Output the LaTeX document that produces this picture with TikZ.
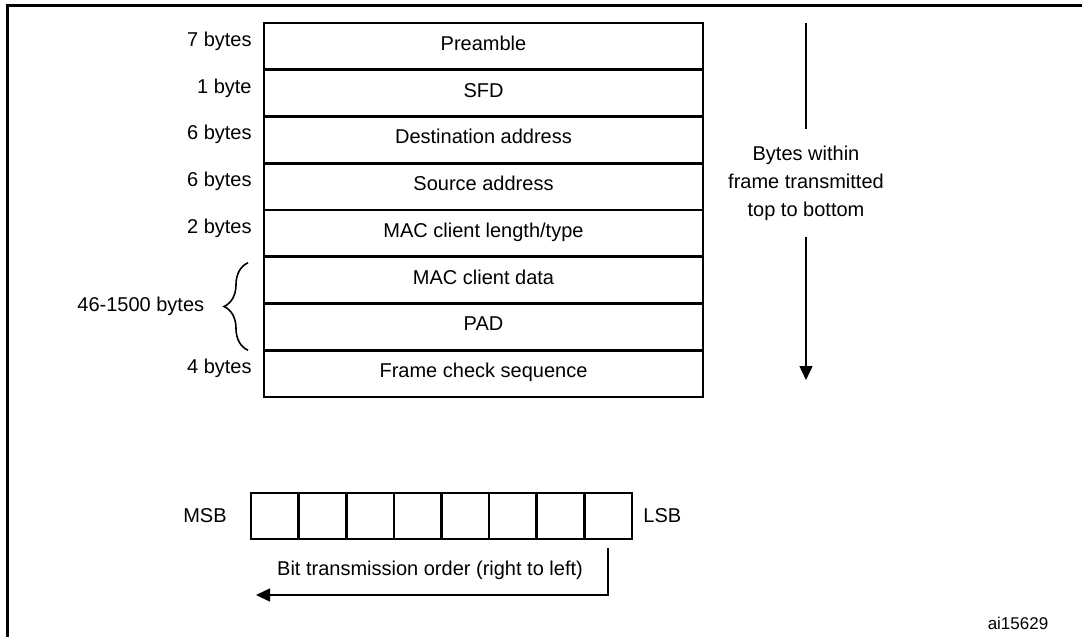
\documentclass[tikz,border=0pt]{standalone}
\usepackage{fontspec}
\setmainfont{Liberation Sans}
\usetikzlibrary{positioning,arrows.meta,decorations.pathreplacing}

\begin{document}
\begin{tikzpicture}[x=0.5pt, y=-0.5pt, font=\fontsize{10}{14}\selectfont]
  \tikzstyle{field}=[draw, line width=1.3pt, minimum width=219.5pt, minimum height=23.375pt,
                     inner sep=0pt, outer sep=0pt, text height=7pt, text depth=3pt]
  \tikzstyle{bytelbl}=[inner sep=0pt, yshift=2pt, text height=7pt, text depth=3pt]
  \tikzstyle{bitcell}=[draw, line width=1.3pt, minimum width=23.81pt, minimum height=23pt,
                       inner sep=0pt, outer sep=0pt]
  \tikzstyle{arrow}=[-{Triangle[width=6.5pt, length=7pt]}, line width=0.75pt]

  \useasboundingbox (0,0) rectangle (1082,637);

  % Frame
  \draw[line width=1.5pt] (1082,5) -- (7,5) -- (7,637);

  % Frame fields, top to bottom
  \foreach \name/\txt [count=\i] in {pre/Preamble, sfd/SFD, dst/Destination address,
      src/Source address, typ/MAC client length\slash type, dat/MAC client data,
      pad/PAD, fcs/Frame check sequence}
    \node[field] (\name) at (483.5, {23+46.75*(\i-0.5)}) {\txt};

  % Field sizes
  \foreach \name/\len in {pre/7 bytes, sfd/1 byte, dst/6 bytes, src/6 bytes,
      typ/2 bytes, fcs/4 bytes}
    \node[bytelbl, left=6pt of \name.west] (l\name) {\len};

  \draw[line width=0.8pt, decorate, decoration={brace, amplitude=12pt}]
    ([xshift=-8pt]pad.south west) -- ([xshift=-8pt, yshift=-3pt]dat.north west)
    node[midway, inner sep=0pt, left=21.5pt] (ldata) {46-1500 bytes};

  % Byte order
  \coordinate (otop) at (806,23);
  \coordinate (obot) at (806,380);
  \node[align=center, inner ysep=8pt] (order) at (806,183)
    {Bytes within\\frame transmitted\\top to bottom};
  \draw[line width=0.75pt] (otop) -- (order);
  \draw[arrow] (order) -- (obot);

  % Bits of one byte
  \foreach \i in {1,...,8}
    \node[bitcell] (b\i) at ({251+47.625*(\i-0.5)}, 516) {};
  \node[inner sep=0pt, left=12pt of b1] (msb) {MSB};
  \node[inner sep=0pt, right=5.5pt of b8] (lsb) {LSB};

  \node (bitlbl) at (430,570) {Bit transmission order (right to left)};
  \coordinate (bitend) at (256,595);
  \draw[arrow] ([yshift=-4.5pt]b8.south) |- (bitend);

  \node[font=\fontsize{8.5}{10}\selectfont] (fig) at (1018,623) {ai15629};
\end{tikzpicture}
\end{document}
